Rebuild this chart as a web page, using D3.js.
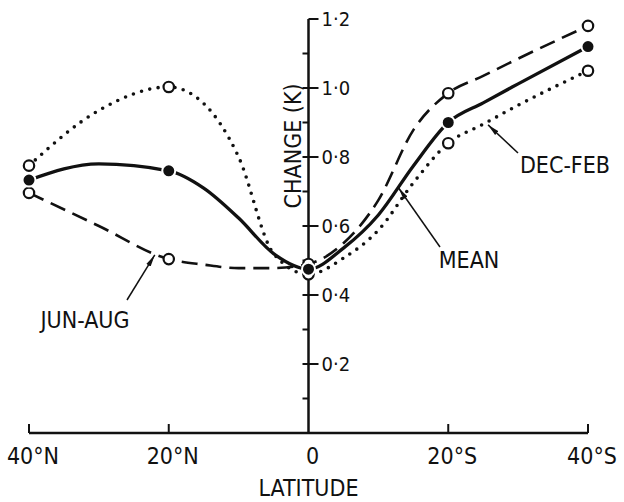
<!DOCTYPE html>
<html>
<head>
<meta charset="utf-8">
<script src="https://cdn.jsdelivr.net/npm/d3@7"></script>
<style>
  body { margin: 0; background: #fff; }
  svg text { font-family: "DejaVu Sans Condensed", "Liberation Sans Narrow", "DejaVu Sans", sans-serif; fill: #111; }
</style>
</head>
<body>
<script>
var w = 624;
var h = 502;

// Latitudes (positive = north)
var latitudes = [40, 30, 20, 15, 10, 5, 0, -5, -10, -15, -20, -25, -30, -40];
var decFeb = [0.775, 0.935, 1.003, 0.955, 0.80, 0.52, 0.46, 0.507, 0.588, 0.725, 0.84, 0.895, 0.95, 1.05];
var mean   = [0.733, 0.78, 0.76, 0.71, 0.623, 0.52, 0.475, 0.536, 0.632, 0.774, 0.90, 0.957, 1.012, 1.12];
var junAug = [0.696, 0.60, 0.504, 0.488, 0.478, 0.478, 0.49, 0.55, 0.675, 0.878, 0.985, 1.035, 1.085, 1.18];

// Marked latitudes (circles)
var markedLats = [40, 20, 0, -20, -40];

// Tick labels
var xTicks = [40, 20, 0, -20, -40];
var xTickLabels = ["40°N", "20°N", "0", "20°S", "40°S"];
var yTicks = [0.2, 0.4, 0.6, 0.8, 1.0, 1.2];
var yTickLabels = ["0·2", "0·4", "0·6", "0·8", "1·0", "1·2"];
var yMinor = [0.1, 0.3, 0.5, 0.7, 0.9, 1.1];

var x = d3.scaleLinear().domain([40, -40]).range([29, 588]);
var y = d3.scaleLinear().domain([0, 1.2]).range([433, 19]);

var svg = d3.select("body")
    .append("svg")
    .attr("width", w)
    .attr("height", h);

svg.append("defs").append("marker")
    .attr("id", "arrow")
    .attr("viewBox", "0 0 12 10")
    .attr("refX", 12)
    .attr("refY", 5)
    .attr("markerWidth", 12)
    .attr("markerHeight", 10)
    .attr("markerUnits", "userSpaceOnUse")
    .attr("orient", "auto")
    .append("path")
    .attr("d", "M0,2.5 L12,5 L0,7.5 Z")
    .attr("fill", "#111");

// x axis line and ticks (ticks point up)
svg.append("line")
    .attr("x1", x(40)).attr("x2", x(-40))
    .attr("y1", y(0)).attr("y2", y(0))
    .attr("stroke", "#111").attr("stroke-width", 2.5);

svg.selectAll(".xtick")
    .data(xTicks.filter(function(d) { return d !== 0; }))
    .enter().append("line")
    .attr("x1", function(d) { return x(d); })
    .attr("x2", function(d) { return x(d); })
    .attr("y1", y(0))
    .attr("y2", y(0) - 9)
    .attr("stroke", "#111").attr("stroke-width", 2);

svg.selectAll(".xlabel")
    .data(xTicks)
    .enter().append("text")
    .attr("x", function(d) { return x(d) + 4; })
    .attr("y", 464)
    .attr("text-anchor", "middle")
    .style("font-size", "23px")
    .text(function(d, i) { return xTickLabels[i]; });

// y axis at the equator
svg.append("line")
    .attr("x1", x(0)).attr("x2", x(0))
    .attr("y1", y(0)).attr("y2", y(1.2))
    .attr("stroke", "#111").attr("stroke-width", 2.5);

svg.selectAll(".ymajor")
    .data(yTicks)
    .enter().append("line")
    .attr("x1", function(d) { return d === 1.2 ? x(0) : x(0) - 6; })
    .attr("x2", x(0) + 10)
    .attr("y1", function(d) { return y(d); })
    .attr("y2", function(d) { return y(d); })
    .attr("stroke", "#111").attr("stroke-width", 2);

svg.selectAll(".yminor")
    .data(yMinor)
    .enter().append("line")
    .attr("x1", x(0) - 6)
    .attr("x2", x(0))
    .attr("y1", function(d) { return y(d); })
    .attr("y2", function(d) { return y(d); })
    .attr("stroke", "#111").attr("stroke-width", 2);

svg.selectAll(".ylabel")
    .data(yTicks)
    .enter().append("text")
    .attr("x", x(0) + 13)
    .attr("y", function(d) { return y(d); })
    .attr("dy", "0.36em")
    .style("font-size", "20px")
    .text(function(d, i) { return yTickLabels[i]; });

// axis titles
svg.append("text")
    .attr("transform", "translate(" + (x(0) - 8) + "," + 146 + ") rotate(-90)")
    .attr("text-anchor", "middle")
    .style("font-size", "23px")
    .text("CHANGE (K)");

svg.append("text")
    .attr("x", x(0))
    .attr("y", 496)
    .attr("text-anchor", "middle")
    .style("font-size", "23px")
    .text("LATITUDE");

// curves
var series = [
    { name: "DEC-FEB", values: decFeb, dash: "0 8.5", width: 3.6, cap: "round", filled: false },
    { name: "JUN-AUG", values: junAug, dash: "16 8", width: 2.6, cap: "butt", filled: false },
    { name: "MEAN", values: mean, dash: null, width: 3.3, cap: "butt", filled: true }
];

var line = d3.line()
    .x(function(d) { return x(d.lat); })
    .y(function(d) { return y(d.v); })
    .curve(d3.curveMonotoneX);

series.forEach(function(s) {
    var pts = latitudes.map(function(lat, i) { return { lat: lat, v: s.values[i] }; });
    svg.append("path")
        .datum(pts)
        .attr("d", line)
        .attr("fill", "none")
        .attr("stroke", "#111")
        .attr("stroke-width", s.width)
        .attr("stroke-linecap", s.cap)
        .attr("stroke-dasharray", s.dash);
});

series.forEach(function(s) {
    var pts = latitudes.map(function(lat, i) { return { lat: lat, v: s.values[i] }; })
        .filter(function(d) { return markedLats.indexOf(d.lat) >= 0; });
    svg.selectAll(null)
        .data(pts)
        .enter().append("circle")
        .attr("cx", function(d) { return x(d.lat); })
        .attr("cy", function(d) { return y(d.v); })
        .attr("r", s.filled ? 6.5 : 5.2)
        .attr("fill", s.filled ? "#111" : "#fff")
        .attr("stroke", s.filled ? "#fff" : "#111")
        .attr("stroke-width", s.filled ? 2 : 2.2);
});

// annotations: arrow tip in data space, tail and text in pixels
var annotations = [
    { label: "JUN-AUG", lat: 22, v: 0.516, tail: [127, 300], tx: 85, ty: 328 },
    { label: "MEAN", lat: -12.9, v: 0.71, tail: [440, 247], tx: 469, ty: 268 },
    { label: "DEC-FEB", lat: -25.7, v: 0.893, tail: [518, 153], tx: 565, ty: 173 }
];

annotations.forEach(function(a) {
    svg.append("line")
        .attr("x1", a.tail[0]).attr("y1", a.tail[1])
        .attr("x2", x(a.lat)).attr("y2", y(a.v))
        .attr("stroke", "#111").attr("stroke-width", 1.5)
        .attr("marker-end", "url(#arrow)");
    svg.append("text")
        .attr("x", a.tx).attr("y", a.ty)
        .attr("text-anchor", "middle")
        .style("font-size", "23px")
        .text(a.label);
});
</script>
</body>
</html>
